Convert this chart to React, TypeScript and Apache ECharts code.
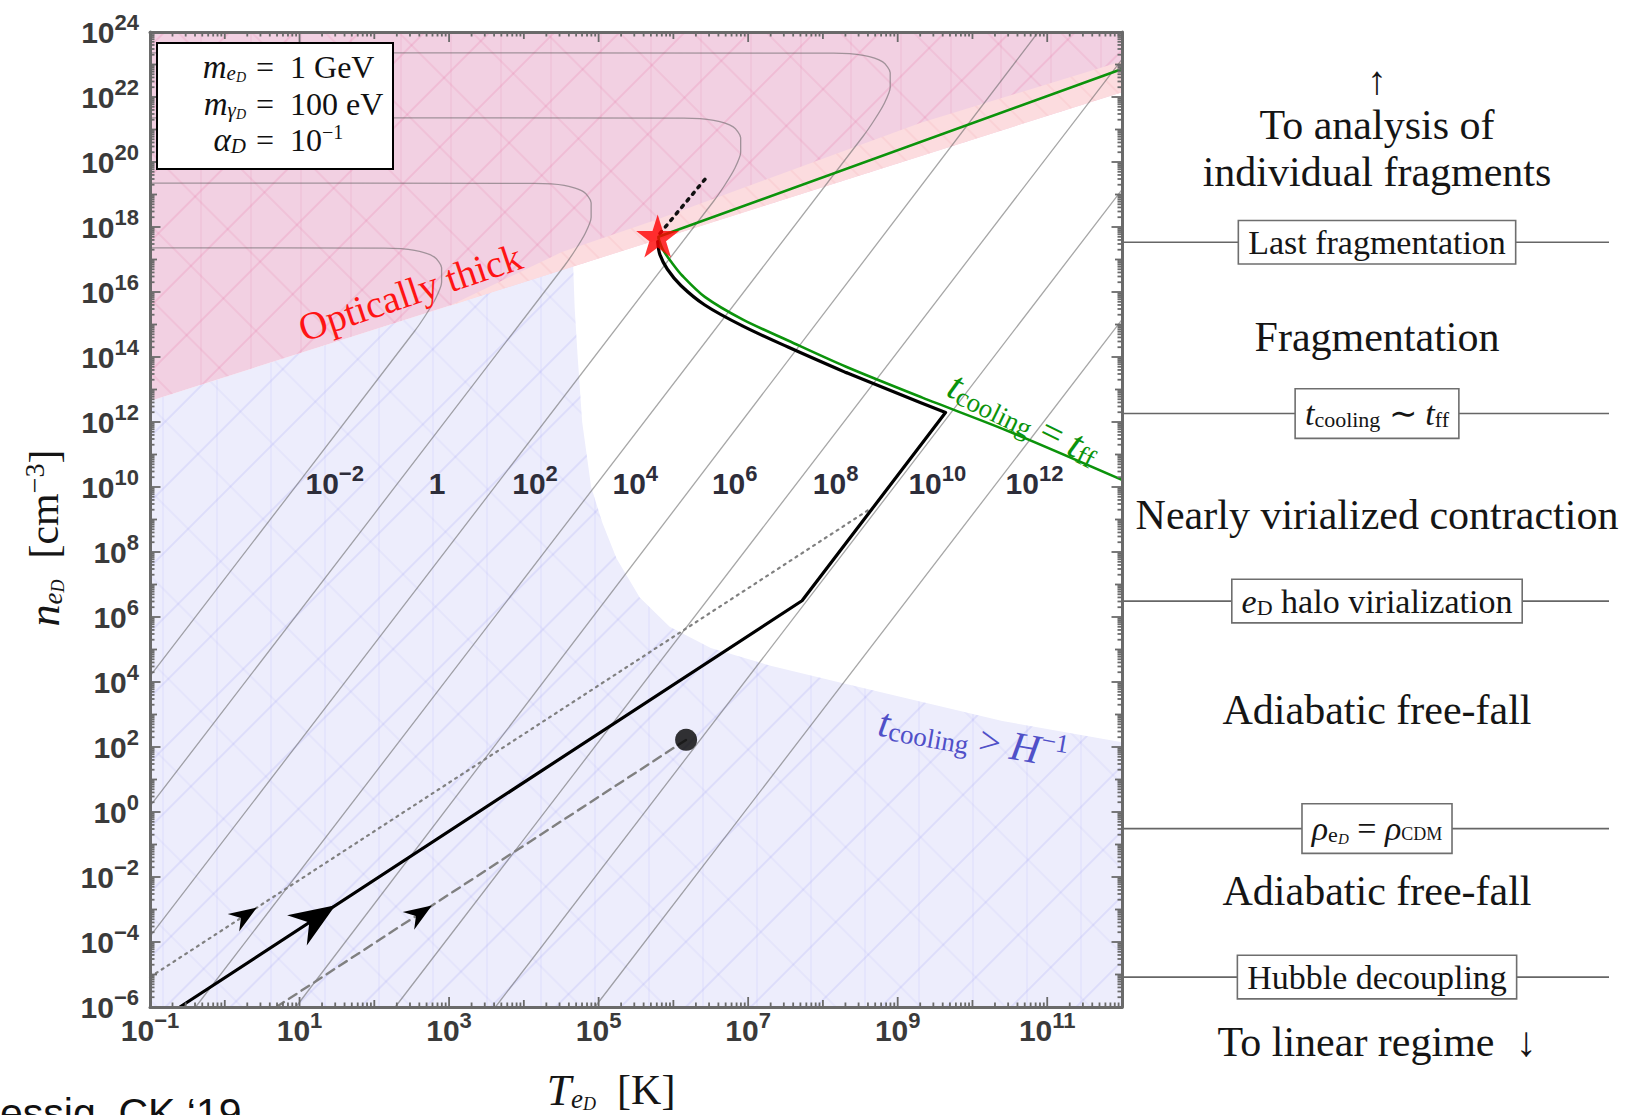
import React, { useEffect, useRef } from "react";
import * as echarts from "echarts";

// ---------------- axes (log10 units) ----------------
const X_MIN = -1;
const X_MAX = 12;
const Y_MIN = -6;
const Y_MAX = 24;
const X_LABEL_EXPONENTS = [-1, 1, 3, 5, 7, 9, 11];
const Y_LABEL_EXPONENTS = [-6, -4, -2, 0, 2, 4, 6, 8, 10, 12, 14, 16, 18, 20, 22, 24];

// ---------------- regions: [log10 T, log10 n] ----------------
const THICK_EDGE = [[-1, 12.65], [12, 22.15]];
const THICK_BAND_TOP = [[12, 23.1], [9.3, 21.2], [5.8, 18.25], [4.5, 17.22], [3.0, 15.57]];
const HUBBLE_EDGE = [
  [4.66, 16.79], [4.68, 15.5], [4.72, 14.0], [4.78, 12.0], [4.9, 10.0], [5.05, 8.9],
  [5.24, 7.8], [5.55, 6.6], [5.95, 5.7], [6.5, 5.05], [7.3, 4.5], [8.2, 4.0],
  [9.3, 3.4], [10.4, 2.8], [12, 2.15],
];

// ---------------- iso-mass contours ----------------
const ISO_M2 = [[-1, 4.18], [2.54, 14.8], [2.69, 15.3], [2.82, 15.8], [2.9, 16.3], [2.9, 16.75], [2.8, 17.08], [2.54, 17.28], [2.14, 17.35], [-1, 17.36]];
const ISO_0 = [[-1, 0.18], [4.54, 16.8], [4.69, 17.3], [4.82, 17.8], [4.9, 18.3], [4.9, 18.75], [4.8, 19.08], [4.54, 19.28], [4.14, 19.34], [-1, 19.35]];
const ISO_2 = [[-1, -3.83], [6.54, 18.8], [6.69, 19.3], [6.82, 19.8], [6.9, 20.3], [6.9, 20.75], [6.8, 21.08], [6.54, 21.28], [6.14, 21.35], [-1, 21.36]];
const ISO_4 = [[-0.39, -6], [8.54, 20.8], [8.69, 21.3], [8.82, 21.8], [8.9, 22.3], [8.9, 22.75], [8.8, 23.08], [8.54, 23.28], [8.14, 23.35], [-1, 23.36]];
const ISO_6 = [[0.95, -6], [10.88, 24]];
const ISO_8 = [[2.28, -6], [12, 23.16]];
const ISO_10 = [[3.62, -6], [12, 19.15]];
const ISO_12 = [[4.95, -6], [12, 15.15]];
const ISO_LABEL_EXP = [-2, 0, 2, 4, 6, 8, 10, 12];
const ISO_LABEL_LOGT = [1.47, 2.84, 4.15, 5.49, 6.82, 8.17, 9.53, 10.83];
const ISO_LABEL_LOGN = 10.1;

// ---------------- trajectories ----------------
const TRACK_MAIN = [[-0.6, -6], [7.72, 6.5], [9.64, 12.29], [9.3, 12.6], [8.31, 13.52]];
const TRACK_CURVE = [
  [8.31, 13.52], [7.54, 14.3], [6.93, 14.95], [6.42, 15.6], [6.1, 16.2],
  [5.92, 16.7], [5.82, 17.15], [5.79, 17.55],
];
const TRACK_AFTER = [[5.82, 17.8], [6.47, 19.6]];
const TRACK_DOTTED = [[-1, -5.08], [8.64, 9.34]];
const TRACK_DASHED = [[0.69, -6], [6.17, 2.22]];
const COOL_FF_UPPER = [[5.8, 17.7], [12, 22.86]];
const COOL_FF_LOWER = [
  [5.8, 17.66], [5.86, 17.3], [5.98, 16.9], [6.12, 16.5], [6.42, 15.85], [6.93, 15.15],
  [7.54, 14.5], [8.31, 13.7], [9.33, 12.75], [10.5, 11.7], [12, 10.22],
];
const LAST_FRAGMENTATION = [5.79, 17.72];
const START_POINT = [6.17, 2.22];
// [log10 T, log10 n, track index (0 main, 1 dotted, 2 dashed)]
const ARROWS = [[1.48, -2.87, 0], [0.43, -2.94, 1], [2.77, -2.88, 2]];

// ---------------- right-hand stages ----------------
const STAGE_LEVELS = [17.53, 12.26, 6.49, -0.51, -5.08];
const STAGE_LABELS = [
  "{r|Last fragmentation}",
  "{ti|t}{tsub|cooling}{r| ∼ }{ti|t}{tsub|ff}",
  "{ri|e}{tsub|D}{r| halo virialization}",
  "{ti|ρ}{tsub|e}{tsub2|D}{r| = }{ti|ρ}{sc|CDM}",
  "{r|Hubble decoupling}",
];
const PHASE_TEXTS = [
  "↑", "To analysis of", "individual fragments", "Fragmentation",
  "Nearly virialized contraction", "Adiabatic free-fall", "Adiabatic free-fall", "To linear regime  ↓",
];
const PHASE_Y = [80, 125, 172, 337, 515, 710, 891, 1042];

// ---------------- styling ----------------
const SANS = '"Liberation Sans", Arial, Helvetica, sans-serif';
const SERIF = '"Liberation Serif", "Times New Roman", serif';
const FRAME = "#6a6a6a";
const TICK_COLOR = "#3a3a3a";

function tok(family: string, size: number, shift: number, extra: any, H: number) {
  const p = shift < 0 ? [0, 0, -2 * shift, 0] : [2 * shift, 0, 0, 0];
  return { fontFamily: family, fontSize: size, lineHeight: H, verticalAlign: "middle", padding: p, ...extra };
}

const TICK_RICH = {
  b: tok(SANS, 30, 0, { fontWeight: "bold", color: TICK_COLOR, fill: TICK_COLOR }, 30),
  s: tok(SANS, 22, -10, { fontWeight: "bold", color: TICK_COLOR, fill: TICK_COLOR }, 30),
};

function expText(n: number) {
  if (n === 0) return "{b|1}";
  return "{b|10}{s|" + String(n).replace("-", "−") + "}";
}
function axisExpText(n: number) {
  return "{b|10}{s|" + String(n).replace("-", "−") + "}";
}

function hatch(rotation: number, color: string, gap: number) {
  return {
    symbol: "rect", symbolSize: 1, dashArrayX: [10, 0], dashArrayY: [1.1, gap],
    rotation, color,
  };
}
function vhatch(color: string, gap: number) {
  return {
    symbol: "rect", symbolSize: 1, dashArrayX: [1.1, gap], dashArrayY: [10, 0],
    rotation: 0, color,
  };
}

function buildOption() {
  const lineS = (data: any, color: string, width: number, type: any, z: number, smooth: any = false) => ({
    type: "line", data, z, silent: true, symbol: "none", showSymbol: false, clip: true, smooth,
    lineStyle: { color, width, type, cap: "round", join: "round" },
    emphasis: { disabled: true }, animation: false,
  });

  const region = (pts: number[][], fill: string, decal: any, z: number) => ({
    type: "custom", z, silent: true, data: [[X_MIN, Y_MIN]], animation: false,
    renderItem: (_p: any, api: any) => ({
      type: "polygon",
      shape: { points: pts.map((p) => api.coord(p)) },
      style: decal ? { fill, decal } : { fill },
    }),
  });

  const bluePoly = [[X_MIN, Y_MIN], THICK_EDGE[0], ...HUBBLE_EDGE, [X_MAX, Y_MIN]];
  const pinkPoly = [THICK_EDGE[0], THICK_EDGE[1], [X_MAX, Y_MAX], [X_MIN, Y_MAX]];
  const bandPoly = [...THICK_BAND_TOP, THICK_EDGE[1]];
  const clear = "rgba(0,0,0,0)";

  const isoLines = [ISO_M2, ISO_0, ISO_2, ISO_4, ISO_6, ISO_8, ISO_10, ISO_12];
  const tracks = [TRACK_MAIN, TRACK_DOTTED, TRACK_DASHED];

  const series: any[] = [
    region(bluePoly, "#ededfc", hatch(-Math.PI / 4, "rgba(140,140,245,0.16)", 44), 1),
    region(bluePoly, clear, hatch(Math.PI / 4, "rgba(140,140,245,0.09)", 58), 1),
    region(bluePoly, clear, vhatch("rgba(140,140,245,0.08)", 52), 1),
    region(pinkPoly, "#f2d0e2", hatch(-Math.PI / 4, "rgba(232,110,160,0.2)", 44), 1),
    region(pinkPoly, clear, hatch(Math.PI / 4, "rgba(232,110,160,0.14)", 50), 1),
    region(pinkPoly, clear, vhatch("rgba(232,110,160,0.1)", 48), 1),
    region(bandPoly, "#fcdcdf", hatch(Math.PI / 4, "rgba(240,140,150,0.12)", 20), 1),
    ...isoLines.map((d) => lineS(d, "rgba(95,95,95,0.55)", 1.3, "solid", 3, 0.25)),
    lineS(TRACK_DOTTED, "#808080", 2.2, [2, 5], 4),
    lineS(TRACK_DASHED, "#808080", 2.4, [9, 6], 4),
    lineS(TRACK_AFTER, "#111", 3.5, [2.5, 6], 4),
    lineS(COOL_FF_UPPER, "#0b930b", 2.6, "solid", 5),
    lineS(COOL_FF_LOWER, "#0b930b", 2.6, "solid", 5, 0.3),
    lineS(TRACK_MAIN, "#000", 3.2, "solid", 6),
    lineS(TRACK_CURVE, "#000", 3.2, "solid", 6, 0.35),
    {
      type: "custom", z: 7, silent: true, animation: false, data: ARROWS,
      renderItem: (_p: any, api: any) => {
        const idx = api.value(2);
        const tr = tracks[idx];
        const a = api.coord(tr[0]);
        const b = api.coord(tr[1]);
        const ang = Math.atan2(b[1] - a[1], b[0] - a[0]);
        const p = api.coord([api.value(0), api.value(1)]);
        const L = idx === 0 ? 46 : 28;
        const W = idx === 0 ? 36 : 21;
        const local = [[0, 0], [-L, -W / 2], [-0.68 * L, 0], [-L, W / 2]];
        const c = Math.cos(ang), s = Math.sin(ang);
        const pts = local.map(([x, y]) => [p[0] + x * c - y * s, p[1] + x * s + y * c]);
        return { type: "polygon", shape: { points: pts }, style: { fill: "#000" } };
      },
    },
    {
      type: "scatter", z: 8, silent: true, animation: false, data: [START_POINT],
      symbol: "circle", symbolSize: 22, itemStyle: { color: "#000" },
    },
    {
      type: "scatter", z: 8, silent: true, animation: false, data: [LAST_FRAGMENTATION],
      symbol: "path://M50,0 L61.8,35.5 L99,35.5 L69,57.5 L80.5,93 L50,71 L19.5,93 L31,57.5 L1,35.5 L38.2,35.5 Z",
      symbolSize: 43, itemStyle: { color: "#ff0000" },
    },
    {
      type: "custom", z: 9, silent: true, animation: false,
      data: ISO_LABEL_EXP.map((e, i) => [ISO_LABEL_LOGT[i], ISO_LABEL_LOGN, e]),
      renderItem: (_p: any, api: any) => {
        const p = api.coord([api.value(0), api.value(1)]);
        return {
          type: "text", x: p[0], y: p[1],
          style: {
            text: expText(api.value(2)), rich: {
              b: { ...TICK_RICH.b, fill: "#2d2d3a", color: "#2d2d3a" },
              s: { ...TICK_RICH.s, fill: "#2d2d3a", color: "#2d2d3a" },
            },
            align: "center", verticalAlign: "middle",
          },
        };
      },
    },
    {
      type: "custom", z: 9, silent: true, animation: false,
      data: STAGE_LEVELS.map((v, i) => [X_MAX, v, i]),
      renderItem: (_p: any, api: any) => {
        const p = api.coord([api.value(0), api.value(1)]);
        const i = api.value(2);
        const H = 38;
        const rich = {
          r: tok(SERIF, 34, 0, { fill: "#151515" }, H),
          ri: tok(SERIF, 34, 0, { fill: "#151515", fontStyle: "italic" }, H),
          ti: tok(SERIF, 34, 0, { fill: "#151515", fontStyle: "italic" }, H),
          tsub: tok(SERIF, 22, 6, { fill: "#151515" }, H),
          tsub2: tok(SERIF, 15, 10, { fill: "#151515", fontStyle: "italic" }, H),
          sc: tok(SERIF, 18, 5, { fill: "#151515" }, H),
        };
        const padV = i === 1 || i === 3 ? 5 : 2;
        return {
          type: "group",
          children: [
            { type: "line", shape: { x1: p[0], y1: p[1], x2: 1609, y2: p[1] }, style: { stroke: "#666", lineWidth: 1.6 } },
            {
              type: "text", x: 1377, y: p[1],
              style: {
                text: STAGE_LABELS[i], rich, align: "center", verticalAlign: "middle",
                backgroundColor: "#fff", borderColor: "#6e6e6e", borderWidth: 1.6, padding: [padV, 9, padV, 9],
              },
            },
          ],
        };
      },
    },
    {
      type: "custom", z: 12, silent: true, animation: false, data: [[X_MIN, Y_MIN]],
      renderItem: (_p: any, api: any) => {
        const children: any[] = [];
        const tl = api.coord([X_MIN, Y_MAX]);
        const br = api.coord([X_MAX, Y_MIN]);
        const seg = (x1: number, y1: number, x2: number, y2: number) => ({
          type: "line", shape: { x1, y1, x2, y2 }, style: { stroke: FRAME, lineWidth: 1.8 },
        });
        for (let d = X_MIN; d <= X_MAX; d++) {
          for (let k = 1; k <= 9; k++) {
            const v = d + Math.log10(k);
            if (v > X_MAX + 1e-9) continue;
            const len = k === 1 ? (X_LABEL_EXPONENTS.includes(d) ? 10 : 7) : 4.5;
            const x = api.coord([v, Y_MIN])[0];
            children.push(seg(x, br[1], x, br[1] - len), seg(x, tl[1], x, tl[1] + len));
          }
        }
        for (let d = Y_MIN; d <= Y_MAX; d++) {
          for (let k = 1; k <= 9; k++) {
            const v = d + Math.log10(k);
            if (v > Y_MAX + 1e-9) continue;
            const len = k === 1 ? (Y_LABEL_EXPONENTS.includes(d) ? 10.5 : 7) : 4.5;
            const y = api.coord([X_MIN, v])[1];
            children.push(seg(tl[0], y, tl[0] + len, y), seg(br[0], y, br[0] - len, y));
          }
        }
        return { type: "group", children };
      },
    },
  ];

  const axisCommon = {
    type: "value", z: 10, splitLine: { show: false }, axisTick: { show: false },
    axisLine: { show: true, onZero: false, lineStyle: { color: FRAME, width: 3 } },
  };

  const H = 46;
  const serifRich = {
    i: tok(SERIF, 44, 0, { fontStyle: "italic", fill: "#151515", color: "#151515" }, H),
    r: tok(SERIF, 42, 0, { fill: "#151515", color: "#151515" }, H),
    s1: tok(SERIF, 27, 9, { fontStyle: "italic", fill: "#151515" }, H),
    s2: tok(SERIF, 18, 14, { fontStyle: "italic", fill: "#151515" }, H),
    sup: tok(SERIF, 28, -10, { fill: "#151515" }, H),
  };
  const LH = 36;
  const legendRich = {
    i: tok(SERIF, 33, 0, { fontStyle: "italic", fill: "#111" }, LH),
    r: tok(SERIF, 32, 0, { fill: "#111" }, LH),
    s1: tok(SERIF, 21, 6, { fontStyle: "italic", fill: "#111" }, LH),
    s2: tok(SERIF, 14, 10, { fontStyle: "italic", fill: "#111" }, LH),
    sup: tok(SERIF, 20, -8, { fill: "#111" }, LH),
  };
  const curveRich = (color: string) => ({
    t: tok(SERIF, 41, 0, { fontStyle: "italic", fill: color }, 46),
    o: tok(SERIF, 39, 0, { fill: color }, 46),
    sub: tok(SERIF, 27, 8, { fill: color }, 46),
    sup: tok(SERIF, 26, -10, { fill: color }, 46),
  });

  const graphic: any[] = [
    { type: "rect", z: 100, shape: { x: 157, y: 43, width: 236, height: 126 }, style: { fill: "#fff", stroke: "#000", lineWidth: 2 } },
    ...[
      ["{i|m}{s1|e}{s2|D}", "{r|=  1 GeV}", 67],
      ["{i|m}{s1|γ}{s2|D}", "{r|=  100 eV}", 104],
      ["{i|α}{s1|D}", "{r|=  10}{sup|−1}", 140],
    ].flatMap(([l, r, y]) => [
      { type: "text", z: 101, x: 246, y, style: { text: l, rich: legendRich, align: "right", verticalAlign: "middle" } },
      { type: "text", z: 101, x: 256, y, style: { text: r, rich: legendRich, align: "left", verticalAlign: "middle" } },
    ]),
    {
      type: "text", z: 100, x: 410, y: 292, rotation: (18.6 * Math.PI) / 180,
      style: { text: "Optically thick", fill: "#ff1414", fontFamily: SERIF, fontSize: 39, align: "center", verticalAlign: "middle" },
    },
    {
      type: "text", z: 100, x: 973, y: 738, rotation: (-10 * Math.PI) / 180,
      style: { text: "{t|t}{sub|cooling}{o| > }{t|H}{sup|−1}", rich: curveRich("#5050c8"), align: "center", verticalAlign: "middle" },
    },
    {
      type: "text", z: 100, x: 1024, y: 418, rotation: (-26 * Math.PI) / 180,
      style: { text: "{t|t}{sub|cooling}{o| = }{t|t}{sub|ff}", rich: curveRich("#0b930b"), align: "center", verticalAlign: "middle" },
    },
    {
      type: "text", z: 100, x: 44, y: 538, rotation: Math.PI / 2,
      style: { text: "{i|n}{s1|e}{s2|D}{r|  [cm}{sup|−3}{r|]}", rich: serifRich, align: "center", verticalAlign: "middle" },
    },
    {
      type: "text", z: 100, x: 611, y: 1090,
      style: { text: "{i|T}{s1|e}{s2|D}{r|  [K]}", rich: serifRich, align: "center", verticalAlign: "middle" },
    },
    ...PHASE_TEXTS.map((t, i) => ({
      type: "text", z: 100, x: 1377, y: PHASE_Y[i],
      style: { text: t, fill: "#151515", fontFamily: SERIF, fontSize: i === 0 ? 40 : 42, align: "center", verticalAlign: "middle" },
    })),
    {
      type: "text", z: 100, x: 0, y: 1092,
      style: { text: "essig, CK ‘19", fill: "#111", fontFamily: SANS, fontSize: 41, align: "left", verticalAlign: "top" },
    },
  ];

  return {
    animation: false,
    backgroundColor: "#ffffff",
    grid: { left: 150, top: 32, width: 972, height: 975 },
    xAxis: [
      {
        ...axisCommon, position: "bottom", min: X_MIN, max: X_MAX, interval: 1,
        axisLabel: {
          margin: 8, rich: TICK_RICH, showMinLabel: true, showMaxLabel: true,
          formatter: (v: number) => {
            const n = Math.round(v);
            return X_LABEL_EXPONENTS.includes(n) ? axisExpText(n) : "";
          },
        },
      },
      { ...axisCommon, position: "top", min: X_MIN, max: X_MAX, interval: 1, axisLabel: { show: false } },
    ],
    yAxis: [
      {
        ...axisCommon, position: "left", min: Y_MIN, max: Y_MAX, interval: 1,
        axisLabel: {
          margin: 11, rich: TICK_RICH, showMinLabel: true, showMaxLabel: true,
          formatter: (v: number) => {
            const n = Math.round(v);
            return Y_LABEL_EXPONENTS.includes(n) ? axisExpText(n) : "";
          },
        },
      },
      { ...axisCommon, position: "right", min: Y_MIN, max: Y_MAX, interval: 1, axisLabel: { show: false } },
    ],
    series,
    graphic,
  };
}

export default function App() {
  const ref = useRef<HTMLDivElement>(null);
  useEffect(() => {
    if (!ref.current) return;
    const chart = echarts.init(ref.current, undefined, { renderer: "svg" });
    chart.setOption(buildOption() as any);
    return () => chart.dispose();
  }, []);
  return (
    <div
      ref={ref}
      style={{ position: "absolute", left: 0, top: 0, width: 1638, height: 1115, background: "#fff" }}
    />
  );
}
